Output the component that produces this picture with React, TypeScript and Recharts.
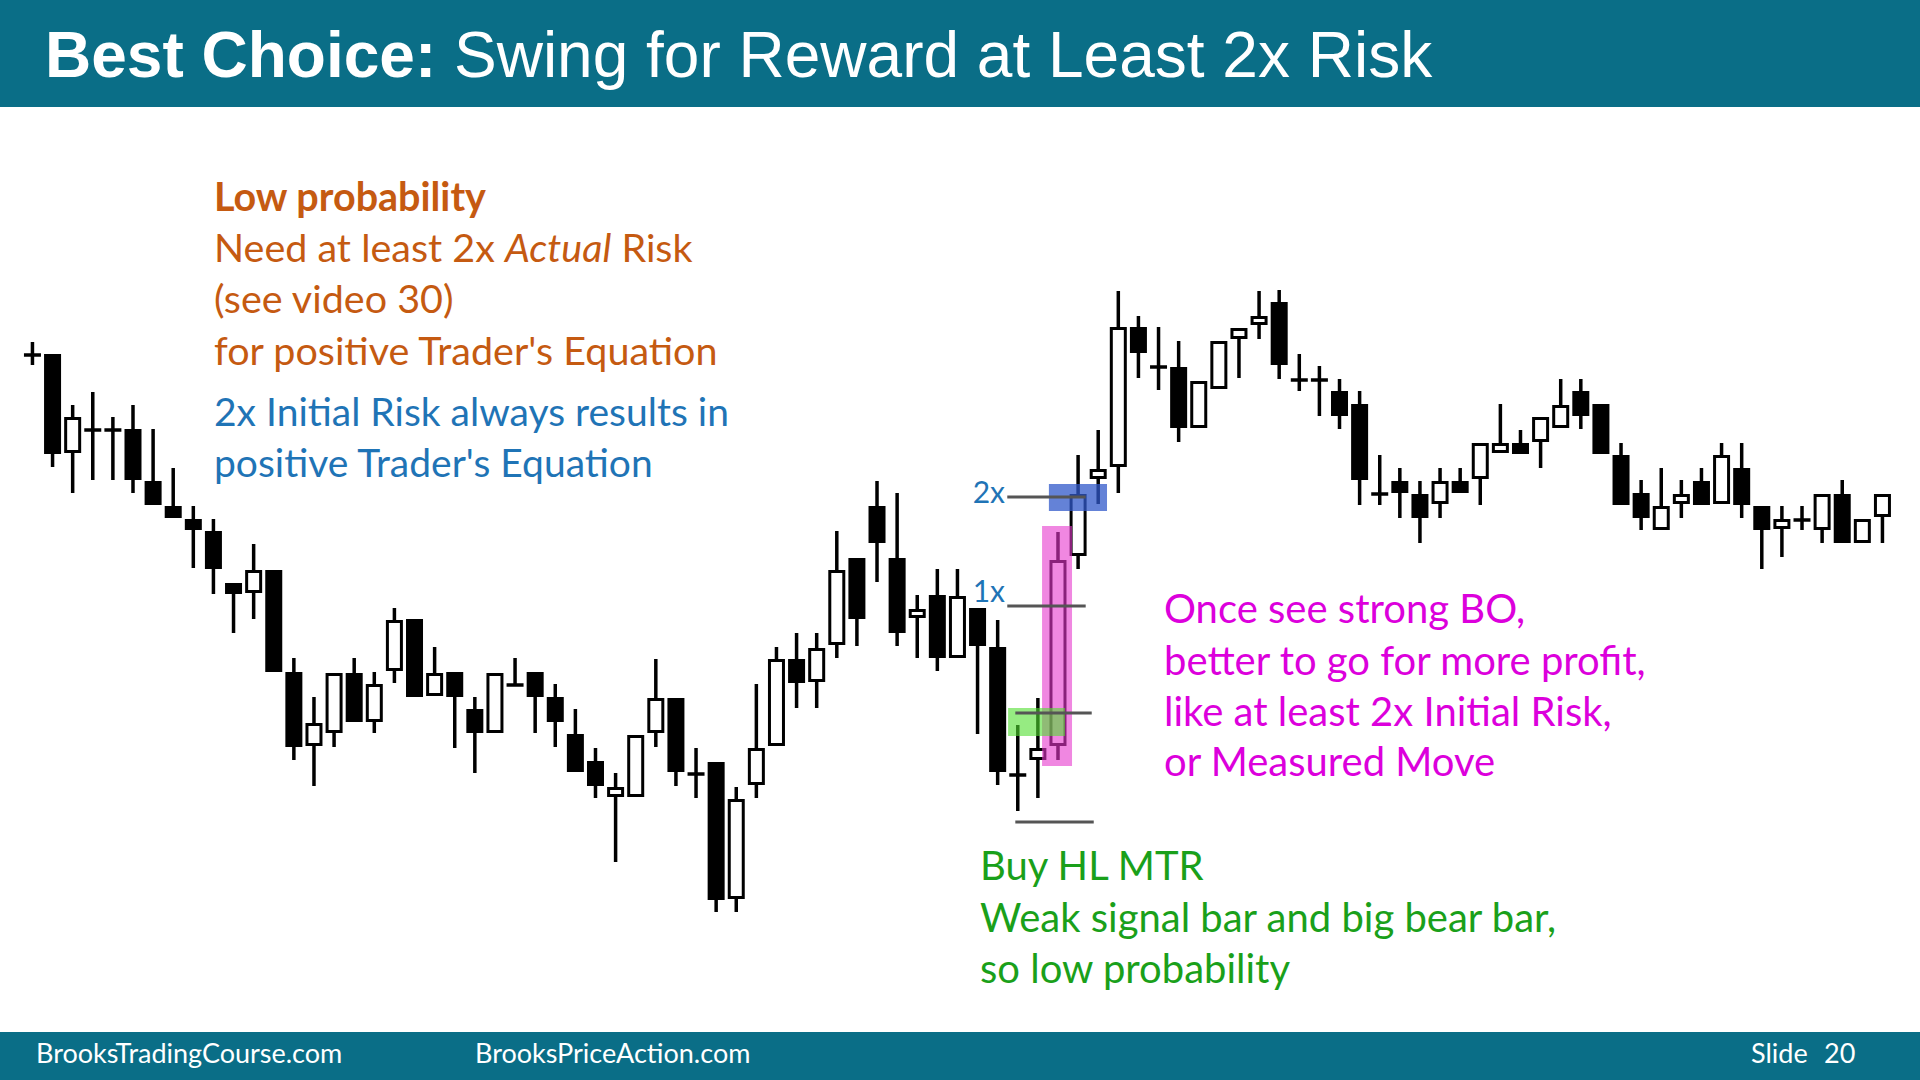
import React from 'react'
import { ComposedChart, Bar, XAxis, YAxis, ReferenceArea, ReferenceLine } from 'recharts'

// candle prices (one entry per bar, left to right)
const opens = [
  64.5, 64.6, 54.7, 57.0, 57.0, 57.1, 51.9, 49.4, 48.1, 46.9,
  41.7, 40.7, 43.0, 32.8, 25.4, 26.7, 32.7, 27.8, 32.9, 38.1,
  30.4, 32.8, 29.1, 26.7, 31.5, 32.8, 30.3, 26.6, 23.9, 20.3,
  20.3, 26.7, 30.2, 22.6, 23.8, 10.1, 21.5, 25.4, 34.1, 31.8,
  35.5, 44.2, 49.4, 44.2, 38.2, 40.5, 34.2, 39.2, 35.3, 22.5,
  24.0, 25.4, 44.4, 52.1, 53.3, 67.3, 63.3, 63.3, 57.2, 61.1,
  66.1, 67.5, 69.8, 62.0, 62.0, 60.9, 59.6, 50.6, 51.9, 50.6,
  49.6, 51.9, 52.1, 54.7, 55.7, 55.8, 57.2, 60.9, 59.6, 54.5,
  50.7, 47.0, 49.6, 51.9, 49.6, 53.2, 49.4, 47.1, 48.0, 47.0,
  50.6, 45.7, 48.3,
]
const highs = [
  65.8, 64.6, 59.5, 60.8, 58.3, 59.5, 57.1, 53.2, 49.4, 48.1,
  41.7, 45.6, 43.0, 34.2, 30.3, 32.7, 34.2, 32.8, 39.2, 38.1,
  35.3, 32.8, 30.3, 32.7, 34.2, 32.8, 31.6, 29.1, 25.2, 22.7,
  26.5, 34.1, 30.2, 25.2, 23.8, 21.3, 31.6, 35.3, 36.7, 36.7,
  46.9, 44.2, 51.9, 50.7, 40.5, 43.1, 43.1, 39.2, 38.0, 27.5,
  30.2, 46.8, 54.5, 57.0, 70.9, 68.4, 67.3, 65.9, 61.9, 65.9,
  67.2, 70.9, 71.0, 64.6, 63.4, 62.1, 60.9, 54.5, 53.2, 51.9,
  53.2, 53.2, 55.7, 59.6, 57.0, 58.3, 62.1, 62.1, 59.6, 55.7,
  52.0, 53.2, 52.0, 53.2, 55.7, 55.7, 49.4, 49.4, 49.4, 50.6,
  52.0, 48.1, 50.6,
]
const lows = [
  63.5, 53.3, 50.7, 52.0, 52.0, 50.7, 49.5, 48.2, 43.2, 40.6,
  36.7, 38.1, 32.8, 24.0, 21.4, 25.3, 27.8, 26.7, 31.7, 30.3,
  30.4, 25.2, 22.7, 26.7, 31.5, 26.7, 25.3, 22.8, 20.2, 13.8,
  20.3, 25.3, 21.4, 20.2, 8.8, 8.8, 20.2, 25.4, 29.2, 29.2,
  34.2, 35.4, 41.8, 35.4, 34.2, 32.9, 34.2, 26.6, 21.5, 18.9,
  20.2, 24.0, 43.1, 49.6, 50.7, 62.2, 61.0, 55.8, 57.2, 61.1,
  62.2, 66.1, 62.1, 60.9, 58.4, 57.1, 49.5, 49.5, 48.2, 45.7,
  48.2, 50.7, 49.5, 54.7, 54.6, 53.2, 57.2, 57.1, 54.6, 49.5,
  47.0, 47.0, 48.2, 49.5, 49.6, 48.2, 43.1, 44.3, 47.0, 45.7,
  45.7, 45.7, 45.7,
]
const closes = [
  64.5, 54.6, 58.3, 57.0, 57.0, 52.0, 49.5, 48.2, 47.0, 43.1,
  40.6, 43.0, 32.8, 25.3, 27.7, 32.7, 27.8, 31.6, 38.0, 30.3,
  32.7, 30.3, 26.7, 32.7, 31.5, 30.3, 27.8, 22.8, 21.4, 21.3,
  26.5, 30.2, 22.8, 22.6, 10.0, 20.1, 25.2, 34.1, 31.7, 35.2,
  43.0, 38.1, 45.7, 36.7, 39.1, 34.2, 40.4, 35.4, 22.8, 22.5,
  25.2, 44.0, 50.6, 53.1, 67.3, 64.7, 63.3, 57.2, 61.9, 65.9,
  67.2, 68.4, 63.5, 62.0, 62.0, 58.4, 52.0, 50.6, 50.7, 48.2,
  51.9, 50.7, 55.7, 55.7, 54.6, 58.3, 59.5, 58.4, 54.6, 49.5,
  48.2, 49.4, 50.6, 49.5, 54.5, 49.5, 47.0, 48.1, 48.0, 50.6,
  45.7, 48.1, 50.6,
]

// trade levels around the signal bar: 2x, 1x, entry, stop
const levelPrices = [50.3, 39.4, 28.7, 17.8]
const levelFrom = [48.5, 48.5, 48.9, 48.9]
const levelTo = [52.4, 52.4, 52.7, 52.8]
const levelLabels = ['2x', '1x']

// highlight boxes [x1, x2, y1, y2]
const pinkBox = [50.23, 51.72, 23.4, 47.4]
const blueBox = [50.57, 53.46, 48.9, 51.6]
const greenBox = [48.54, 51.37, 26.4, 29.2]

const candles = opens.map((o, i) => ({
  i,
  open: o,
  high: highs[i],
  low: lows[i],
  close: closes[i],
  range: [lows[i], highs[i]],
}))

const TEAL = '#0a6e87'
const ORANGE = '#c55a11'
const BLUE = '#1f74b6'
const MAGENTA = '#dc00dc'
const GREEN = '#1aa01a'
const BODY_FONT = "Lato, 'Open Sans', sans-serif"

function Candle(props: any) {
  const { x, y, width, height, payload } = props
  if (!payload) return null
  const top = Math.min(y, y + height)
  const h = Math.abs(height)
  const span = payload.high - payload.low || 1
  const py = (p: number) => top + ((payload.high - p) / span) * h
  const cx = x + width / 2
  const yo = py(payload.open)
  const yc = py(payload.close)

  let body
  if (payload.close === payload.open) {
    body = <line x1={x} x2={x + width} y1={yo} y2={yo} stroke="#000" strokeWidth={3.5} />
  } else if (payload.close > payload.open) {
    body = (
      <rect x={x + 1.5} y={yc + 1.5} width={width - 3} height={Math.max(yo - yc - 3, 1)}
        fill="#fff" stroke="#000" strokeWidth={3} />
    )
  } else {
    body = <rect x={x} y={yo} width={width} height={Math.max(yc - yo, 2)} fill="#000" />
  }

  return (
    <g>
      <line x1={cx} x2={cx} y1={top} y2={top + h} stroke="#000" strokeWidth={3.5} />
      {body}
    </g>
  )
}

export default function App() {
  return (
    <div style={{ position: 'absolute', left: 0, top: 0, width: 1920, height: 1080, background: '#fff', overflow: 'hidden' }}>
      <div style={{ position: 'absolute', left: 0, top: 0 }}>
        <ComposedChart width={1920} height={1080} data={candles}
          margin={{ top: 100, right: 27.95, bottom: 80, left: 21.95 }}>
          <XAxis hide type="number" dataKey="i" domain={[-0.5, 92.5]} allowDataOverflow />
          <YAxis hide type="number" domain={[0, 90]} allowDataOverflow />
          <Bar dataKey="range" barSize={17} isAnimationActive={false} shape={<Candle />} />

          <ReferenceArea x1={pinkBox[0]} x2={pinkBox[1]} y1={pinkBox[2]} y2={pinkBox[3]}
            fill="#e637cd" fillOpacity={0.6} stroke="none" ifOverflow="visible" zIndex={450} />
          <ReferenceArea x1={blueBox[0]} x2={blueBox[1]} y1={blueBox[2]} y2={blueBox[3]}
            fill="#3058ca" fillOpacity={0.75} stroke="none" ifOverflow="visible" zIndex={450} />
          <ReferenceArea x1={greenBox[0]} x2={greenBox[1]} y1={greenBox[2]} y2={greenBox[3]}
            fill="#50de2f" fillOpacity={0.6} stroke="none" ifOverflow="visible" zIndex={450} />

          {levelPrices.map((p, k) => (
            <ReferenceLine key={k} segment={[{ x: levelFrom[k], y: p }, { x: levelTo[k], y: p }]}
              stroke="#555" strokeWidth={3} ifOverflow="visible" zIndex={460} />
          ))}
        </ComposedChart>
      </div>

      {/* slide furniture and notes */}
      <svg width={1920} height={1080} style={{ position: 'absolute', left: 0, top: 0, pointerEvents: 'none' }}>
        <rect x={0} y={0} width={1920} height={107} fill={TEAL} />
        <text x={45} y={77} fill="#fff" fontFamily="Arial, 'Liberation Sans', sans-serif" fontSize={64}>
          <tspan fontWeight="bold">Best Choice:</tspan> Swing for Reward at Least 2x Risk
        </text>

        <rect x={0} y={1032} width={1920} height={48} fill={TEAL} />
        <g fill="#fff" fontFamily={BODY_FONT} fontSize={27}>
          <text x={36} y={1063}>BrooksTradingCourse.com</text>
          <text x={475} y={1063}>BrooksPriceAction.com</text>
          <text x={1751} y={1063}>Slide</text>
          <text x={1824} y={1063}>20</text>
        </g>

        <g fontFamily={BODY_FONT} fontSize={39.5} fill={ORANGE}>
          <text x={214} y={211} fontWeight="bold">Low probability</text>
          <text x={214} y={262}>Need at least 2x <tspan fontStyle="italic">Actual</tspan> Risk</text>
          <text x={214} y={313}>(see video 30)</text>
          <text x={214} y={365}>for positive Trader's Equation</text>
        </g>
        <g fontFamily={BODY_FONT} fontSize={39} fill={BLUE}>
          <text x={214} y={426}>2x Initial Risk always results in</text>
          <text x={214} y={477}>positive Trader's Equation</text>
        </g>

        <g fontFamily={BODY_FONT} fontSize={40} fill={MAGENTA}>
          <text x={1164} y={623}>Once see strong BO,</text>
          <text x={1164} y={675}>better to go for more profit,</text>
          <text x={1164} y={726}>like at least 2x Initial Risk,</text>
          <text x={1164} y={776}>or Measured Move</text>
        </g>

        <g fontFamily={BODY_FONT} fontSize={40} fill={GREEN}>
          <text x={980} y={880}>Buy HL MTR</text>
          <text x={980} y={932}>Weak signal bar and big bear bar,</text>
          <text x={980} y={983}>so low probability</text>
        </g>

        <g fontFamily={BODY_FONT} fontSize={30} fill={BLUE} textAnchor="end">
          <text x={1005} y={503}>{levelLabels[0]}</text>
          <text x={1005} y={602}>{levelLabels[1]}</text>
        </g>
      </svg>
    </div>
  )
}
